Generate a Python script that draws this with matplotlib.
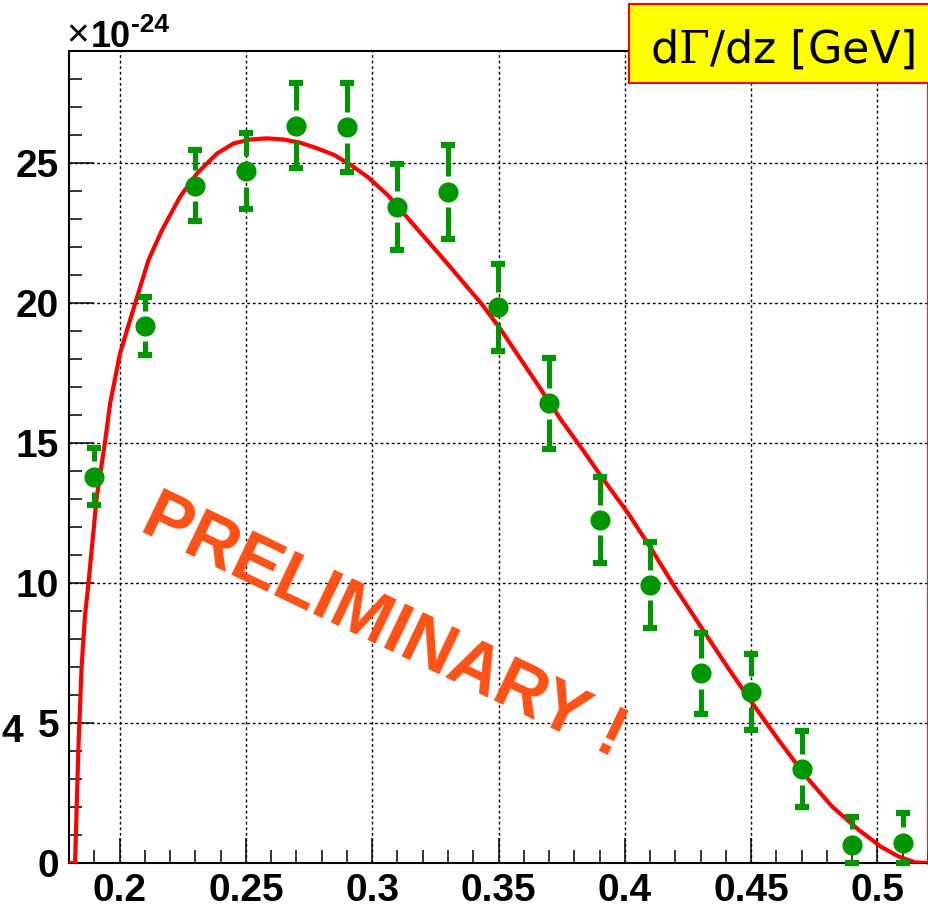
import numpy as np
import matplotlib
matplotlib.use("Agg")
import matplotlib.pyplot as plt
from matplotlib.ticker import MultipleLocator, FormatStrFormatter
from matplotlib.patches import Rectangle

plt.rcParams['mathtext.fontset'] = 'dejavuserif'

# measured points (z bins), values in units of 1e-24
z = [0.19, 0.21, 0.23, 0.25, 0.27, 0.29, 0.31, 0.33, 0.35,
     0.37, 0.39, 0.41, 0.43, 0.45, 0.47, 0.49, 0.51]
rate = [13.80, 19.18, 24.19, 24.71, 26.33, 26.27, 23.44, 23.98, 19.84,
        16.42, 12.25, 9.93, 6.77, 6.12, 3.35, 0.66, 0.73]
err = [1.01, 1.04, 1.26, 1.37, 1.51, 1.59, 1.54, 1.68, 1.55,
       1.63, 1.54, 1.52, 1.45, 1.36, 1.36, 0.99, 1.07]

# fit curve
fit_z = [0.18, 0.1824, 0.1830, 0.1837, 0.1841, 0.1850, 0.1863, 0.1877, 0.1896,
         0.1910, 0.1942, 0.1963, 0.2002, 0.2062, 0.2115, 0.2168, 0.2240, 0.2307,
         0.2386, 0.2452, 0.2518, 0.2584, 0.2650, 0.2717, 0.2783, 0.2849, 0.2915,
         0.2981, 0.3061, 0.3113, 0.3285, 0.3431, 0.3510, 0.3643, 0.3748, 0.3834,
         0.3907, 0.4013, 0.4106, 0.4198, 0.4311, 0.4410, 0.4509, 0.4608, 0.4714,
         0.4820, 0.4926, 0.5014, 0.5084, 0.5150, 0.52]
fit_rate = [0.0, 0.0, 1.89, 4.04, 4.99, 7.01, 8.8, 9.99, 11.77,
            13.08, 15.0, 16.42, 18.2, 19.99, 21.54, 22.6, 23.8, 24.63,
            25.34, 25.70, 25.84, 25.88, 25.84, 25.72, 25.52, 25.29, 24.93,
            24.51, 23.86, 23.32, 21.54, 19.99, 19.04, 17.25, 15.82, 14.75,
            13.80, 12.49, 11.2, 9.85, 8.3, 6.95, 5.65, 4.4, 3.12,
            2.02, 1.18, 0.58, 0.23, 0.02, 0.0]

GREEN = '#009600'
W, H = 929, 908

fig = plt.figure(figsize=(W / 100, H / 100), dpi=100)
ax = fig.add_axes([69 / W, 45 / H, 859 / W, 812 / H])

ax.set_xlim(0.18, 0.52)
ax.set_ylim(0, 29)

# grid
ax.grid(True, which='major', color='black', linestyle=(0, (2, 2)), linewidth=1)
ax.set_axisbelow(True)

# fit line
ax.plot(fit_z, fit_rate, color='red', linewidth=3, zorder=3)

# error bars with a gap around the marker
gap = 0.55
zz = np.array(z)
yy = np.array(rate)
ee = np.array(err)
lo = np.maximum(yy - ee, 0)
hi = yy + ee
ax.vlines(zz, yy + gap, hi, color=GREEN, linewidth=3.6, zorder=4)
ax.vlines(zz, np.minimum(yy - gap, yy), lo, color=GREEN, linewidth=3.6, zorder=4)
ax.plot(zz, hi, linestyle='none', marker='_', markersize=10,
        markeredgewidth=4.5, color=GREEN, zorder=4, clip_on=False)
ax.plot(zz, lo, linestyle='none', marker='_', markersize=10,
        markeredgewidth=4.5, color=GREEN, zorder=4, clip_on=False)
ax.plot(zz, yy, linestyle='none', marker='o', markersize=14.5,
        markeredgewidth=0, color=GREEN, zorder=5)

# axes styling (ROOT look)
ax.xaxis.set_major_locator(MultipleLocator(0.05))
ax.xaxis.set_minor_locator(MultipleLocator(0.01))
ax.yaxis.set_major_locator(MultipleLocator(5))
ax.yaxis.set_minor_locator(MultipleLocator(1))
ax.xaxis.set_major_formatter(FormatStrFormatter('%g'))
ax.yaxis.set_major_formatter(FormatStrFormatter('%g'))
ax.tick_params(which='both', direction='in', top=False, right=False, width=1.1)
ax.tick_params(which='major', length=18, labelsize=28, pad=7)
ax.tick_params(which='minor', length=9.5)
for lab in ax.get_xticklabels() + ax.get_yticklabels():
    lab.set_fontfamily('Liberation Sans')
    lab.set_fontweight('bold')

for s in ['left', 'bottom', 'top']:
    ax.spines[s].set_linewidth(1.5)
ax.spines['right'].set_color('red')
ax.spines['right'].set_linewidth(2)

# stray label left of the axis
fig.text(1 / W, 1 - 742 / H, '4', ha='left', va='baseline', fontsize=28,
         fontfamily='Liberation Sans', fontweight='bold')

# exponent label
fig.text(66 / W, 1 - 46 / H, '\u00d7', ha='left', va='baseline', fontsize=28,
         fontfamily='Liberation Sans')
fig.text(91 / W, 1 - 47 / H, '10', ha='left', va='baseline', fontsize=26,
         fontfamily='Liberation Sans', fontweight='bold')
fig.text(131 / W, 1 - 32 / H, '-24', ha='left', va='baseline', fontsize=19,
         fontfamily='Liberation Sans', fontweight='bold')

# title box
box = Rectangle((629 / W, 1 - 83 / H), 0.35, 79 / H, transform=fig.transFigure,
                facecolor='#ffff00', edgecolor='red', linewidth=1.5, zorder=5)
fig.patches.append(box)
fig.text(650 / W, 1 - 63 / H, r'd$\Gamma$/dz [GeV]', ha='left', va='baseline',
         fontsize=32, fontfamily='DejaVu Sans', zorder=6)

# watermark
fig.text(138 / W, 1 - 530 / H, 'PRELIMINARY !', rotation=-25.6,
         rotation_mode='anchor', ha='left', va='baseline', fontsize=51,
         fontfamily='Liberation Sans', fontweight='bold', color='#ff5014',
         zorder=6)

fig.savefig('out.png', dpi=100)
